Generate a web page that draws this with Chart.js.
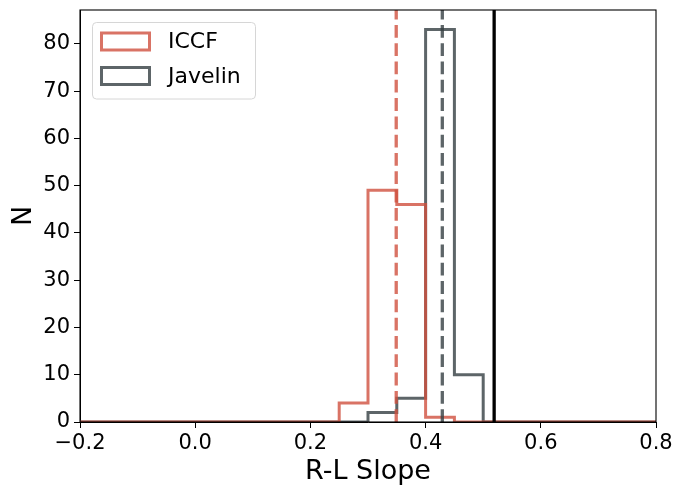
<!DOCTYPE html>
<html><head><meta charset="utf-8">
<script src="https://cdn.jsdelivr.net/npm/chart.js@4/dist/chart.umd.min.js"></script>
<style>html,body{margin:0;padding:0;background:#fff;}#wrap{width:676px;height:487px;}</style>
</head><body><div id="wrap"><canvas id="c" width="676" height="487"></canvas></div>
<script>
// ---- data ----
const binEdges = [-0.2,-0.15,-0.1,-0.05,0.0,0.05,0.1,0.15,0.2,0.25,0.3,0.35,0.4,0.45,0.5,0.55,0.6,0.65,0.7,0.75,0.8];
const iccfCounts    = [0,0,0,0,0,0,0,0,0,4,49,46,1,0,0,0,0,0,0,0];
const javelinCounts = [0,0,0,0,0,0,0,0,0,0,2,5,83,10,0,0,0,0,0,0];
const iccfMedian = 0.349;
const javelinMedian = 0.429;
const referenceSlope = 0.519;
const xTickValues = [-0.2,0.0,0.2,0.4,0.6,0.8];
const xTickLabels = ['\u22120.2','0.0','0.2','0.4','0.6','0.8'];
const yTickValues = [0,10,20,30,40,50,60,70,80];
const yTickLabels = ['0','10','20','30','40','50','60','70','80'];
const seriesNames = ['ICCF','Javelin'];
const xLabel = 'R-L Slope';
const yLabel = 'N';

// ---- styles ----
const FONT = 'DejaVu Sans';
const iccfColor = 'rgba(207,80,62,0.8)';
const javColor = 'rgba(52,62,66,0.8)';

function stepPoints(counts){
  return binEdges.map((e,i)=>({x:e, y:counts[Math.min(i,counts.length-1)]}));
}

const vlinePlugin = {
  id:'vlines',
  afterDatasetsDraw(chart){
    const {ctx, chartArea:a, scales:{x}} = chart;
    ctx.save();
    ctx.beginPath(); ctx.rect(a.left,a.top,a.right-a.left,a.bottom-a.top); ctx.clip();
    const lines = [
      {v:iccfMedian, c:iccfColor, d:[12.8,5.5]},
      {v:javelinMedian, c:javColor, d:[12.8,5.5]},
      {v:referenceSlope, c:'#000', d:[]}
    ];
    lines.forEach(l=>{
      const px = x.getPixelForValue(l.v);
      ctx.beginPath();
      ctx.setLineDash(l.d);
      ctx.lineWidth = 3.3;
      ctx.strokeStyle = l.c;
      ctx.moveTo(px, a.bottom); ctx.lineTo(px, a.top);
      ctx.stroke();
    });
    ctx.restore();
    // frame
    ctx.save();
    ctx.strokeStyle = '#000'; ctx.lineWidth = 1.1; ctx.setLineDash([]);
    ctx.strokeRect(a.left, a.top, a.right-a.left, a.bottom-a.top);
    ctx.restore();
    // legend
    ctx.save();
    const bx=92.5, by=22.5, bw=163, bh=76.5;
    ctx.beginPath(); ctx.roundRect(bx,by,bw,bh,4);
    ctx.fillStyle='rgba(255,255,255,0.8)'; ctx.fill();
    ctx.strokeStyle='#d6d6d6'; ctx.lineWidth=1; ctx.stroke();
    const cols=[iccfColor,javColor];
    const rows=[41.5,76];
    ctx.font = '22px "'+FONT+'"';
    ctx.textBaseline='middle';
    seriesNames.forEach((n,i)=>{
      ctx.strokeStyle=cols[i]; ctx.lineWidth=3;
      ctx.strokeRect(101.5, rows[i]-8.5, 48, 17);
      ctx.fillStyle='#000';
      ctx.fillText(n, 168, rows[i]+1);
    });
    ctx.restore();
  }
};

new Chart(document.getElementById('c'), {
  type:'line',
  data:{datasets:[
    {label:seriesNames[0], data:stepPoints(iccfCounts), stepped:true, borderColor:iccfColor, borderWidth:3, pointRadius:0, fill:false, borderJoinStyle:'miter'},
    {label:seriesNames[1], data:stepPoints(javelinCounts), stepped:true, borderColor:javColor, borderWidth:3, pointRadius:0, fill:false, borderJoinStyle:'miter'}
  ]},
  options:{
    responsive:false, animation:false, devicePixelRatio:1,
    layout:{padding:{top:10,right:20,left:0,bottom:0}},
    plugins:{legend:{display:false}, tooltip:{enabled:false}},
    scales:{
      x:{type:'linear', min:-0.2, max:0.8,
        afterBuildTicks:s=>{s.ticks = xTickValues.map(v=>({value:v}));},
        afterFit:s=>{s.height=65; s.paddingLeft=0; s.paddingRight=0;},
        ticks:{callback:(v,i)=>xTickLabels[i], font:{family:FONT,size:21}, color:'#000', padding:3, maxRotation:0, autoSkip:false},
        grid:{drawOnChartArea:false, color:'#000', tickLength:6, tickWidth:1},
        border:{display:true, color:'#000', width:1},
        title:{display:true, text:xLabel, font:{family:FONT,size:27}, color:'#000', padding:{top:0,bottom:-1}}
      },
      y:{type:'linear', min:0, max:87.15,
        afterBuildTicks:s=>{s.ticks = yTickValues.map(v=>({value:v}));},
        afterFit:s=>{s.width=80; s.paddingTop=0; s.paddingBottom=0;},
        ticks:{callback:(v,i)=>yTickLabels[i], font:{family:FONT,size:21}, color:'#000', padding:4, autoSkip:false},
        grid:{drawOnChartArea:false, color:'#000', tickLength:6, tickWidth:1},
        border:{display:true, color:'#000', width:1},
        title:{display:true, text:yLabel, font:{family:FONT,size:27}, color:'#000', padding:{top:8,bottom:0}}
      }
    }
  },
  plugins:[vlinePlugin]
});
</script></body></html>
